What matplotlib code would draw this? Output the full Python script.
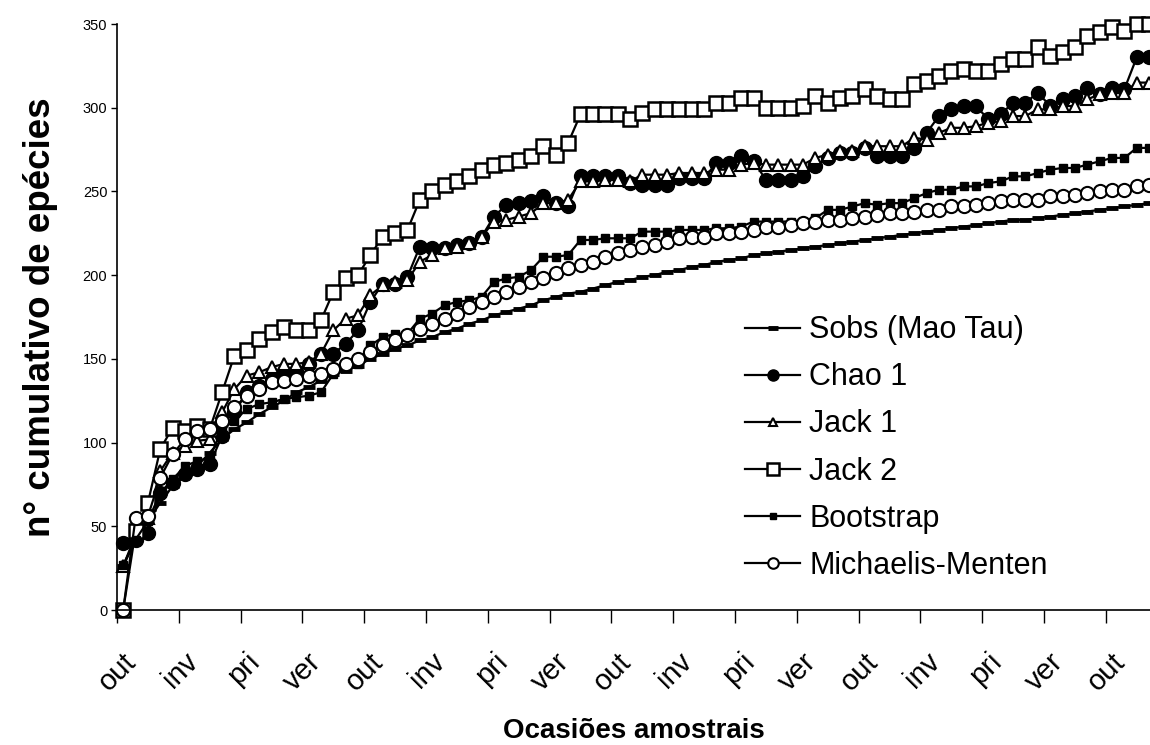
import numpy as np
import matplotlib
matplotlib.use("Agg")
import matplotlib.pyplot as plt
from matplotlib.transforms import ScaledTranslation

plt.rcParams['font.family'] = ['Liberation Sans', 'DejaVu Sans']

# seasons shown every 5 sampling occasions
season_labels = ['out', 'inv', 'pri', 'ver'] * 4 + ['out']

sobs = [26, 42, 53, 64, 74, 80, 86, 94, 102, 108, 112, 117, 121, 125, 130, 133, 137, 141, 143, 146,
        150, 153, 156, 158, 161, 163, 166, 168, 171, 173, 176, 178, 180, 182, 185, 187, 189, 190, 192, 194,
        196, 197, 199, 200, 202, 203, 205, 206, 208, 209, 210, 212, 213, 214, 215, 216, 217, 218, 219, 220,
        221, 222, 223, 224, 225, 226, 227, 228, 229, 230, 231, 232, 233, 233, 234, 235, 236, 237, 238, 239,
        240, 241, 242, 243]

chao1 = [40, 42, 46, 70, 76, 81, 84, 87, 104, 118, 130, 134, 138, 142, 143, 147, 153, 153, 159, 167,
         184, 195, 195, 199, 217, 216, 216, 218, 219, 223, 235, 242, 243, 244, 247, 243, 241, 259, 259, 259, 259,
         255, 254, 254, 254, 258, 258, 258, 267, 267, 271, 268, 257, 257, 257, 259, 265, 270, 273, 273, 276, 271, 271, 271,
         276, 285, 295, 299, 301, 301, 293, 296, 303, 303, 309, 301, 305, 307, 312, 308, 312, 311, 330, 330]

jack1 = [26, 45, 55, 83, 94, 98, 101, 102, 118, 132, 140, 142, 145, 147, 147, 148, 153, 167, 174, 176,
         188, 194, 196, 197, 208, 212, 216, 217, 219, 223, 232, 233, 235, 237, 243, 243, 245, 256, 256, 257, 257,
         256, 260, 260, 260, 261, 261, 261, 263, 263, 266, 267, 266, 266, 266, 266, 270, 272, 274, 274, 277, 277, 277, 277,
         282, 281, 285, 288, 288, 289, 291, 292, 295, 295, 299, 299, 301, 301, 305, 308, 309, 309, 315, 315]

jack2 = [0, 47, 64, 96, 109, 107, 110, 108, 130, 152, 155, 162, 166, 169, 167, 167, 173, 190, 198, 200,
         212, 223, 225, 227, 245, 250, 254, 256, 259, 263, 266, 267, 269, 271, 277, 272, 279, 296, 296, 296, 296,
         293, 297, 299, 299, 299, 299, 299, 303, 303, 306, 306, 300, 300, 300, 301, 307, 303, 306, 307, 311, 307, 305, 305,
         314, 316, 319, 322, 323, 322, 322, 326, 329, 329, 336, 331, 333, 336, 343, 345, 348, 346, 350, 350]

bootstrap = [27, 42, 53, 70, 78, 86, 89, 91, 108, 113, 120, 123, 124, 126, 127, 128, 130, 141, 145, 147,
             158, 163, 165, 165, 174, 177, 182, 184, 185, 187, 196, 198, 199, 203, 211, 211, 212, 221, 221, 222, 222,
             222, 226, 226, 226, 227, 227, 227, 228, 228, 229, 232, 232, 232, 232, 232, 234, 239, 239, 241, 243, 242, 243, 243,
             246, 249, 251, 251, 253, 253, 255, 256, 259, 259, 261, 263, 264, 264, 266, 268, 270, 270, 276, 276]

mm = [0, 55, 56, 79, 93, 102, 107, 108, 113, 121, 128, 132, 136, 137, 138, 140, 141, 144, 147, 150,
      154, 158, 161, 164, 168, 171, 174, 177, 181, 184, 187, 190, 193, 196, 198, 201, 204, 206, 208, 211, 213,
      215, 217, 218, 220, 222, 223, 223, 225, 225, 226, 227, 229, 229, 230, 231, 232, 233, 233, 234, 235, 236, 237, 237,
      238, 239, 239, 241, 241, 242, 243, 244, 245, 245, 245, 247, 247, 248, 249, 250, 251, 251, 253, 254]

x = np.arange(len(sobs))

fig = plt.figure(figsize=(11.5, 7.45), dpi=100)
ax = fig.add_axes([117/1150, 135/745, 1 - 117/1150, (610-24)/745])

lw = 1.6
ax.plot(x, sobs, color='black', lw=lw, marker='_', ms=9, mew=3.5, label='Sobs (Mao Tau)', clip_on=False)
ax.plot(x, chao1, color='black', lw=lw, marker='o', ms=10, mfc='black', mec='black', label='Chao 1', clip_on=False)
ax.plot(x, jack1, color='black', lw=lw, marker='^', ms=8, mfc='white', mec='black', mew=1.5, label='Jack 1', clip_on=False)
ax.plot(x, jack2, color='black', lw=lw, marker='s', ms=10, mfc='white', mec='black', mew=1.8, label='Jack 2', clip_on=False)
ax.plot(x, bootstrap, color='black', lw=lw, marker='s', ms=6, mfc='black', mec='black', label='Bootstrap', clip_on=False)
ax.plot(x, mm, color='black', lw=lw, marker='o', ms=9.5, mfc='white', mec='black', mew=1.5, label='Michaelis-Menten', clip_on=False)

ax.set_ylim(0, 350)
ax.set_yticks(range(0, 351, 50))
ax.set_xlim(-0.5, -0.5 + 1033/12.36)

ticks = np.arange(len(season_labels)) * 5 - 0.5
ax.set_xticks(ticks)
ax.set_xticklabels(season_labels, rotation=45, ha='right', va='top', rotation_mode='anchor', fontsize=21)
ax.tick_params(axis='x', length=9, width=1, pad=18)
ax.tick_params(axis='y', length=4, width=1, labelsize=10.5, pad=3)
shift = ScaledTranslation(5/100, 0, fig.dpi_scale_trans)
for lab in ax.get_xticklabels():
    lab.set_transform(lab.get_transform() + shift)

for s in ['top', 'right']:
    ax.spines[s].set_visible(False)
for s in ['left', 'bottom']:
    ax.spines[s].set_linewidth(1.2)

ax.set_xlabel('Ocasiões amostrais', fontsize=20, fontweight='bold', labelpad=16)
ax.set_ylabel('n° cumulativo de epécies', fontsize=26.5, fontweight='bold', labelpad=18)

leg = ax.legend(loc='center left', bbox_to_anchor=(745/1150, 1 - 448/745), bbox_transform=fig.transFigure,
                frameon=False, fontsize=22, handlelength=1.8, handletextpad=0.3, labelspacing=0.56,
                markerscale=0.8, borderpad=0, borderaxespad=0)

fig.savefig('out.png', dpi=100)
